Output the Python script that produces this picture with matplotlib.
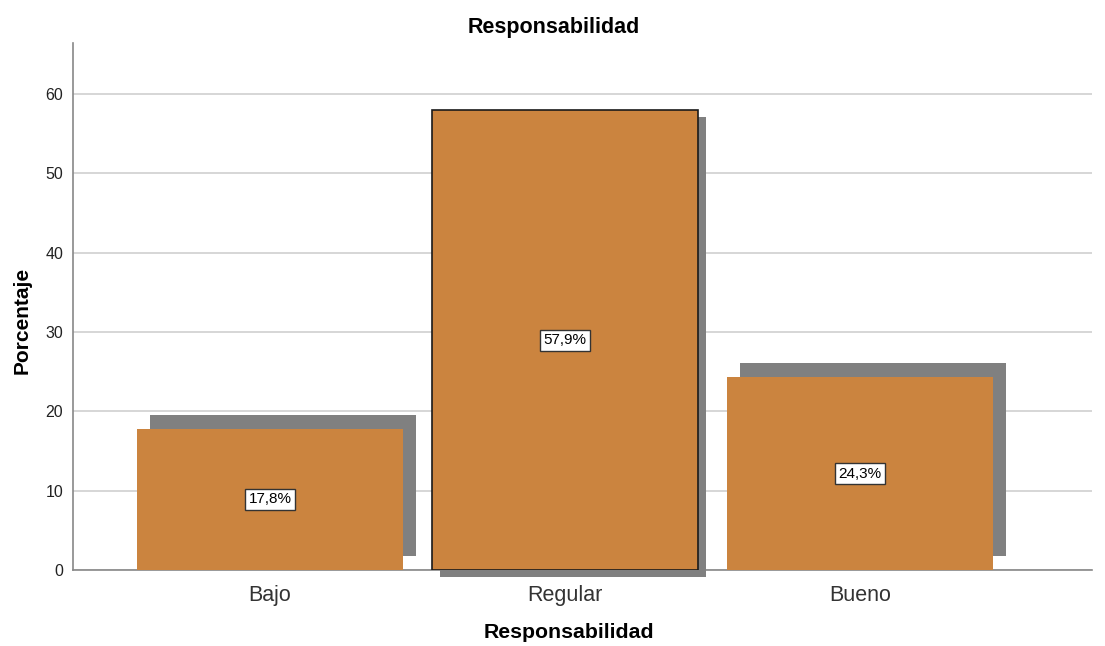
import matplotlib.pyplot as plt
import matplotlib.transforms as mtransforms

plt.rcParams['font.family'] = ['Liberation Sans', 'DejaVu Sans']

# Datos
categorias = ['Bajo', 'Regular', 'Bueno']
porcentajes = [17.8, 57.9, 24.3]
etiquetas = ['17,8%', '57,9%', '24,3%']

bar_color = '#CB843F'
shadow_color = '#808080'

fig = plt.figure(figsize=(11.05, 6.46), dpi=100)
ax = fig.add_axes([73 / 1105, 76 / 646, (1092 - 73) / 1105, (570 - 43) / 646])

x = list(range(len(categorias)))

# sombras (desplazadas en pixeles)
for i, v in enumerate(porcentajes):
    if i == 1:
        dx, dy = 8, -7
    else:
        dx, dy = 13, 14
    off = mtransforms.ScaledTranslation(dx / 100, dy / 100, fig.dpi_scale_trans)
    ax.bar(x[i], v, width=0.9, color=shadow_color, zorder=3,
           transform=ax.transData + off, clip_on=False)

# barras
for i, v in enumerate(porcentajes):
    if i == 1:
        ax.bar(x[i], v, width=0.9, color=bar_color, edgecolor='#1a1a1a',
               linewidth=1.2, zorder=4)
    else:
        ax.bar(x[i], v, width=0.9, color=bar_color, zorder=4)
    ax.text(x[i], v / 2, etiquetas[i], ha='center', va='center', fontsize=11,
            zorder=5,
            bbox=dict(boxstyle='square,pad=0.22', facecolor='white',
                      edgecolor='#333333', linewidth=1))

ax.set_xlim(-0.668, 2.786)
ax.set_ylim(0, 66.4)
ax.set_yticks([0, 10, 20, 30, 40, 50, 60])
ax.set_xticks(x)
ax.set_xticklabels(categorias, fontsize=15.5, color='#333333')
ax.tick_params(axis='y', labelsize=11.5, length=0, pad=7, labelcolor='#222222')
ax.tick_params(axis='x', length=0, pad=11)
ax.grid(axis='y', color='#d0d0d0', linewidth=1.2, zorder=0)
ax.set_axisbelow(True)

for s in ['top', 'right']:
    ax.spines[s].set_visible(False)
for s in ['left', 'bottom']:
    ax.spines[s].set_color('#888888')
    ax.spines[s].set_linewidth(1.2)

ax.set_ylabel('Porcentaje', fontsize=15, fontweight='bold')
ax.set_xlabel('Responsabilidad', fontsize=15.3, fontweight='bold')
ax.yaxis.set_label_coords(-51 / 1019, (570 - 320) / 527)
ax.xaxis.set_label_coords((569 - 73) / 1019, -(633 - 570) / 527)
ax.xaxis.label.set_va('center')
ax.yaxis.label.set_va('center')
fig.text(554 / 1105, 1 - 27 / 646, 'Responsabilidad', ha='center', va='center',
         fontsize=15.5, fontweight='bold')

fig.savefig('out.png', dpi=100)
